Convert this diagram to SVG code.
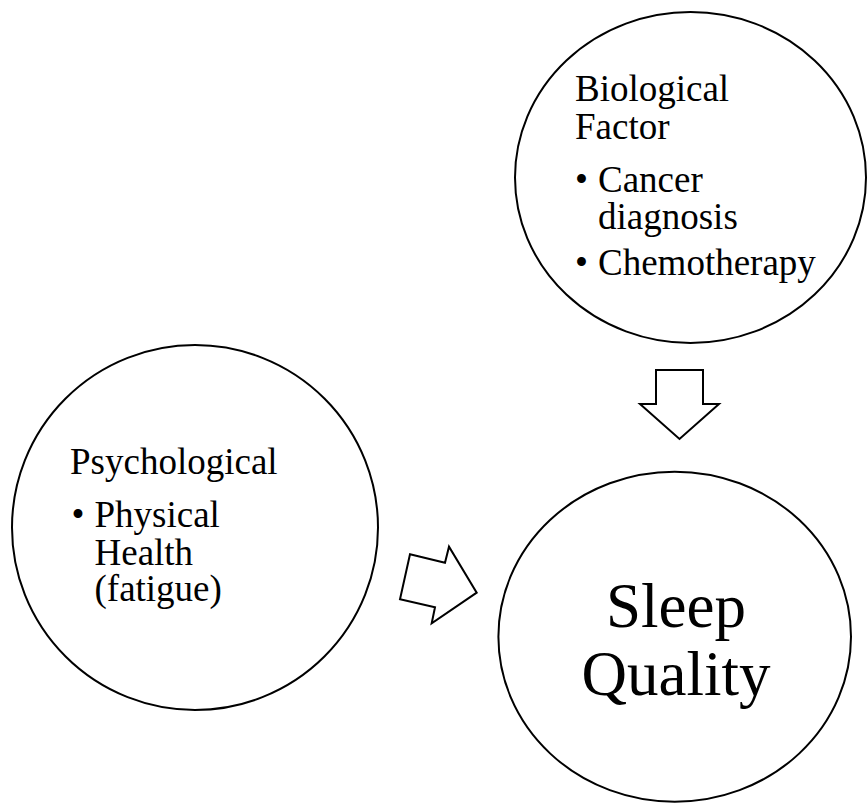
<svg xmlns="http://www.w3.org/2000/svg" width="867" height="803" viewBox="0 0 867 803">
<style>
.node{fill:#fff;stroke:#000;stroke-width:2}
.arrow{fill:#fff;stroke:#000;stroke-width:2;stroke-linejoin:miter}
.t{font-family:"Liberation Serif","Times New Roman",serif;font-size:37px;fill:#000}
.big{font-family:"Liberation Serif","Times New Roman",serif;font-size:63px;fill:#000;text-anchor:middle}
</style>
<rect width="867" height="803" fill="#fff"/>
<g id="biological">
<ellipse class="node" cx="690.5" cy="177.5" rx="175.5" ry="165.5"/>
<text class="t" x="575" y="101">Biological</text>
<text class="t" x="575" y="138.5">Factor</text>
<text class="t" x="575" y="192">•</text>
<text class="t" x="598" y="192">Cancer</text>
<text class="t" x="598" y="228.5">diagnosis</text>
<text class="t" x="575" y="275">•</text>
<text class="t" x="598" y="275">Chemotherapy</text>
</g>
<g id="psychological">
<ellipse class="node" cx="195" cy="527.5" rx="183" ry="182.5"/>
<text class="t" x="70" y="474">Psychological</text>
<text class="t" x="71.5" y="527">•</text>
<text class="t" x="94.5" y="527">Physical</text>
<text class="t" x="94.5" y="565">Health</text>
<text class="t" x="94.5" y="601">(fatigue)</text>
</g>
<g id="sleep">
<ellipse class="node" cx="674.7" cy="636.7" rx="176.3" ry="165"/>
<text class="big" x="676" y="627">Sleep</text>
<text class="big" x="676" y="695">Quality</text>
</g>
<g id="connectors">
<polygon class="arrow" points="656,370 703,370 703,404 719,404 679.5,439 640,404 656,404"/>
<polygon class="arrow" points="410,554.3 445,562.7 449,546.7 476.7,592.7 431.7,623.3 435,607.3 400,599.3"/>
</g>
</svg>
